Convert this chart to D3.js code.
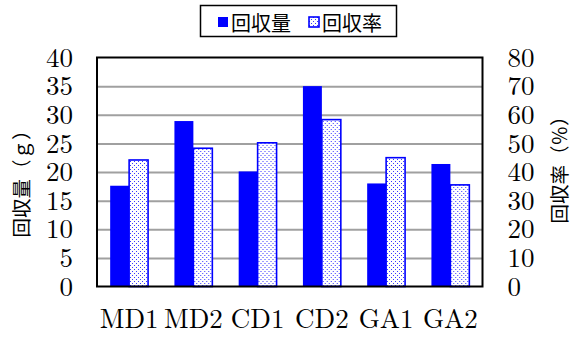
<!DOCTYPE html>
<html>
<head>
<meta charset="utf-8">
<script src="https://cdn.jsdelivr.net/npm/d3@7"></script>
<style>
  html, body { margin: 0; padding: 0; background: #fff; }
  svg { display: block; }
</style>
</head>
<body>
<svg id="chart" width="580" height="337"></svg>
<script>
// Recovery amount (g) and recovery rate (%) per sample
const categories = ["MD1", "MD2", "CD1", "CD2", "GA1", "GA2"];
const amount = [17.6, 28.9, 20.1, 35.0, 18.0, 21.4];
const rate = [44.2, 48.3, 50.2, 58.3, 45.0, 35.5];
const leftTicks = [0, 5, 10, 15, 20, 25, 30, 35, 40];
const rightTicks = [0, 10, 20, 30, 40, 50, 60, 70, 80];
const seriesNames = ["回収量", "回収率"];

const svg = d3.select("#chart");
const plot = { left: 97, right: 482.5, top: 57.5, bottom: 286.5 };
const blue = "#0000ff";
const numFont = "'Latin Modern Roman'";
const cjkFont = "'Noto Sans CJK JP'";

// Dotted fill for the rate bars
const defs = svg.append("defs");
const pat = defs.append("pattern")
  .attr("id", "dots")
  .attr("patternUnits", "userSpaceOnUse")
  .attr("width", 4).attr("height", 4);
pat.append("rect").attr("width", 4).attr("height", 4).attr("fill", "#fff");
pat.append("rect").attr("x", 1).attr("y", 1).attr("width", 1).attr("height", 1)
  .attr("fill", "#3a3aff").attr("shape-rendering", "crispEdges");
pat.append("rect").attr("x", 3).attr("y", 3).attr("width", 1).attr("height", 1)
  .attr("fill", "#3a3aff").attr("shape-rendering", "crispEdges");

const x0 = d3.scaleBand().domain(categories).range([plot.left, plot.right]);
const bw = x0.bandwidth();
const x1 = d3.scaleBand().domain(["amount", "rate"]).range([bw * 0.205, bw * 0.795]);
const yL = d3.scaleLinear().domain([0, 40]).range([plot.bottom, plot.top]);
const yR = d3.scaleLinear().domain([0, 80]).range([plot.bottom, plot.top]);

// Horizontal gridlines
const grid = svg.append("g")
  .attr("transform", `translate(${plot.left},0)`)
  .call(d3.axisLeft(yL).tickValues(leftTicks.slice(1, -1)).tickSize(-(plot.right - plot.left)).tickFormat(""));
grid.select(".domain").remove();
grid.selectAll("line").attr("stroke", "#a0a0a0").attr("stroke-width", 2);

// Bars
const groups = svg.append("g").selectAll("g")
  .data(categories)
  .join("g")
  .attr("transform", d => `translate(${x0(d)},0)`);

groups.append("rect")
  .attr("x", x1("amount"))
  .attr("width", x1.bandwidth())
  .attr("y", (d, i) => yL(amount[i]))
  .attr("height", (d, i) => yL(0) - yL(amount[i]))
  .attr("fill", blue);

groups.append("rect")
  .attr("x", x1("rate"))
  .attr("width", x1.bandwidth())
  .attr("y", (d, i) => yR(rate[i]))
  .attr("height", (d, i) => yR(0) - yR(rate[i]))
  .attr("fill", "url(#dots)")
  .attr("stroke", blue)
  .attr("stroke-width", 1.6);

// Plot frame
svg.append("rect")
  .attr("x", plot.left).attr("y", plot.top)
  .attr("width", plot.right - plot.left).attr("height", plot.bottom - plot.top)
  .attr("fill", "none").attr("stroke", "#000").attr("stroke-width", 2);

function styleNumbers(sel, size) {
  sel.attr("font-family", null).attr("font-size", null);
  sel.selectAll("text")
    .style("font-family", numFont)
    .style("font-size", size + "px")
    .attr("fill", "#000");
}

// Left axis labels
const axL = svg.append("g")
  .attr("transform", `translate(${plot.left},0)`)
  .call(d3.axisLeft(yL).tickValues(leftTicks).tickSize(0).tickPadding(24));
axL.select(".domain").remove();
styleNumbers(axL, 27);

// Right axis labels
const axR = svg.append("g")
  .attr("transform", `translate(${plot.right},0)`)
  .call(d3.axisRight(yR).tickValues(rightTicks).tickSize(0).tickPadding(25));
axR.select(".domain").remove();
styleNumbers(axR, 27);

// Category labels
const axB = svg.append("g")
  .attr("transform", `translate(0,${plot.bottom})`)
  .call(d3.axisBottom(x0).tickSize(0).tickPadding(22));
axB.select(".domain").remove();
styleNumbers(axB, 27);

// Axis titles
svg.append("text")
  .attr("transform", "translate(29,179) rotate(-90)")
  .attr("text-anchor", "middle")
  .style("font-family", cjkFont)
  .style("font-size", "19.5px")
  .text("回収量（ｇ）");

svg.append("text")
  .attr("transform", "translate(567,165) rotate(-90)")
  .attr("text-anchor", "middle")
  .style("font-family", cjkFont)
  .style("font-size", "19.5px")
  .text("回収率（％）");

// Legend
const legend = svg.append("g");
legend.append("rect")
  .attr("x", 200.5).attr("y", 5.5).attr("width", 196).attr("height", 31)
  .attr("fill", "#fff").attr("stroke", "#000").attr("stroke-width", 1.5);
const legendItems = [
  { x: 218, fill: blue, stroke: "none" },
  { x: 309, fill: "url(#dots)", stroke: blue }
];
legendItems.forEach((it, i) => {
  legend.append("rect")
    .attr("x", it.x).attr("y", 17).attr("width", 10).attr("height", 10)
    .attr("fill", it.fill).attr("stroke", it.stroke).attr("stroke-width", 1.6);
  legend.append("text")
    .attr("x", it.x + 13).attr("y", 31)
    .style("font-family", cjkFont)
    .style("font-size", "20px")
    .text(seriesNames[i]);
});
</script>
</body>
</html>
